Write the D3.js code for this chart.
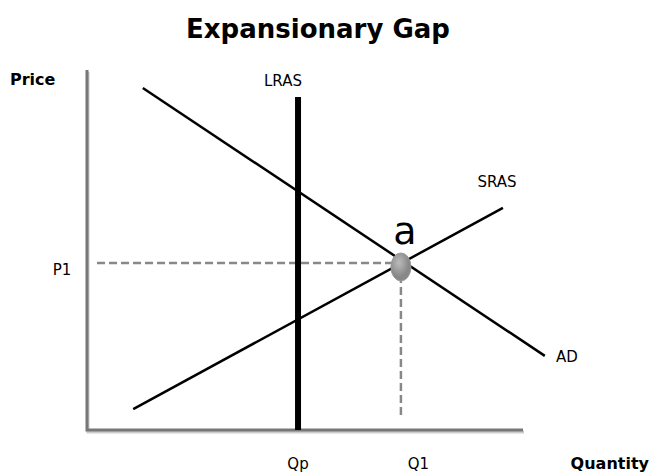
<!DOCTYPE html>
<html>
<head>
<meta charset="utf-8">
<script src="https://cdn.jsdelivr.net/npm/d3@7"></script>
<style>
  body { margin: 0; background: #fff; }
  text { font-family: "DejaVu Sans", Verdana, sans-serif; }
</style>
</head>
<body>
<svg width="651" height="473"></svg>
<script>
// curves in data units (quantity, price)
var adPoints = [[1.28, 9.5], [10.5, 2.06]];
var srasPoints = [[1.06, 0.58], [9.54, 6.17]];
var lrasQ = 4.84, lrasTop = 9.25;
var eq = { q: 7.2, p: 4.64 };
var tickQ = [{ label: 'Qp', q: 4.84 }, { label: 'Q1', q: 7.6 }];

var svg = d3.select('svg');
var x = d3.scaleLinear().domain([0, 10]).range([87, 523]);
var y = d3.scaleLinear().domain([0, 10]).range([430, 70]);
var line = d3.line().x(function(d) { return x(d[0]); }).y(function(d) { return y(d[1]); });

svg.append('text').attr('x', 318).attr('y', 38).attr('text-anchor', 'middle')
  .style('font-size', '26px').style('font-weight', 'bold').text('Expansionary Gap');

// axes (shadow + line)
svg.append('path').attr('d', 'M' + x(0) + ',' + y(10) + 'V' + y(0) + 'H' + x(10))
  .attr('transform', 'translate(1,2)').attr('fill', 'none').attr('stroke', '#ccc').attr('stroke-width', 3);
svg.append('path').attr('d', 'M' + x(0) + ',' + y(10) + 'V' + y(0) + 'H' + x(10))
  .attr('fill', 'none').attr('stroke', '#777').attr('stroke-width', 3);

// dashed guides
svg.append('line').attr('x1', x(0.23)).attr('x2', x(eq.q)).attr('y1', y(eq.p)).attr('y2', y(eq.p))
  .attr('stroke', '#888').attr('stroke-width', 2.5).attr('stroke-dasharray', '8,4');
svg.append('line').attr('x1', x(eq.q)).attr('x2', x(eq.q)).attr('y1', y(eq.p)).attr('y2', y(0.33))
  .attr('stroke', '#888').attr('stroke-width', 2.5).attr('stroke-dasharray', '8,4');

// LRAS
svg.append('line').attr('x1', x(lrasQ)).attr('x2', x(lrasQ)).attr('y1', y(lrasTop)).attr('y2', y(0))
  .attr('stroke', '#000').attr('stroke-width', 6);

svg.append('path').datum(adPoints).attr('d', line).attr('stroke', '#000').attr('stroke-width', 2.5).attr('fill', 'none');
svg.append('path').datum(srasPoints).attr('d', line).attr('stroke', '#000').attr('stroke-width', 2.5).attr('fill', 'none');

// equilibrium point
var grad = svg.append('defs').append('radialGradient').attr('id', 'g').attr('cx', '40%').attr('cy', '35%');
grad.append('stop').attr('offset', '0%').attr('stop-color', '#bbb');
grad.append('stop').attr('offset', '100%').attr('stop-color', '#888');
svg.append('ellipse').attr('cx', x(eq.q)).attr('cy', y(eq.p) + 4).attr('rx', 10).attr('ry', 14)
  .attr('fill', 'url(#g)').attr('stroke', '#999').attr('stroke-width', 1);

svg.append('text').attr('x', 405).attr('y', 244).attr('text-anchor', 'middle').style('font-size', '38px').text('a');

var lab = [
  { t: 'LRAS', x: 283, y: 86, a: 'middle' },
  { t: 'SRAS', x: 497, y: 187, a: 'middle' },
  { t: 'AD', x: 567, y: 362, a: 'middle' },
  { t: 'P1', x: 62, y: 275, a: 'middle' }
];
svg.selectAll('.lab').data(lab).enter().append('text')
  .attr('x', function(d) { return d.x; }).attr('y', function(d) { return d.y; })
  .attr('text-anchor', function(d) { return d.a; }).style('font-size', '15px').text(function(d) { return d.t; });

svg.selectAll('.tq').data(tickQ).enter().append('text')
  .attr('x', function(d) { return x(d.q); }).attr('y', 469).attr('text-anchor', 'middle')
  .style('font-size', '15px').text(function(d) { return d.label; });

svg.append('text').attr('x', 10).attr('y', 85).style('font-size', '16px').style('font-weight', 'bold').text('Price');
svg.append('text').attr('x', 649).attr('y', 469).attr('text-anchor', 'end').style('font-size', '16px').style('font-weight', 'bold').text('Quantity');
</script>
</body>
</html>
